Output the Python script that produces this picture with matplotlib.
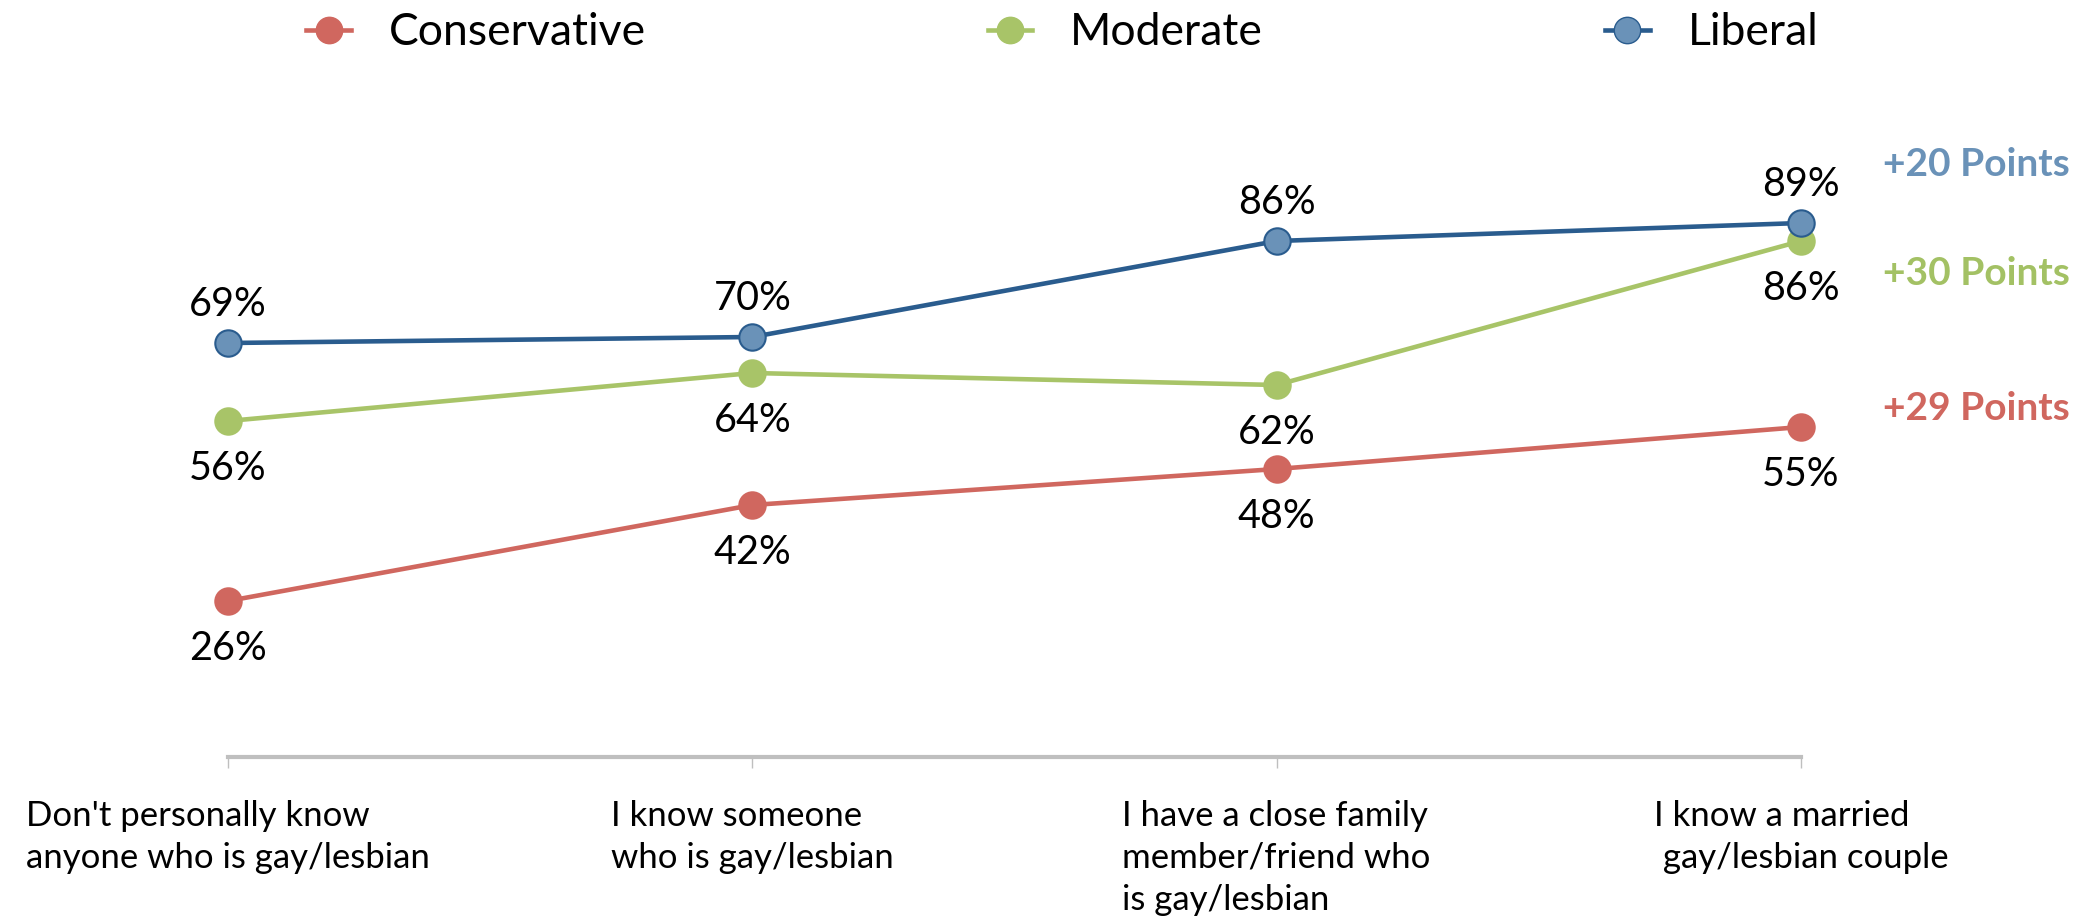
import matplotlib.pyplot as plt
from matplotlib.lines import Line2D

plt.rcParams['font.family'] = ['Lato', 'DejaVu Sans']

categories = ["Don't personally know\nanyone who is gay/lesbian",
              "I know someone\nwho is gay/lesbian",
              "I have a close family\nmember/friend who\nis gay/lesbian",
              "I know a married\n gay/lesbian couple"]
conservative = [26, 42, 48, 55]
moderate = [56, 64, 62, 86]
liberal = [69, 70, 86, 89]
gains = ["+20 Points", "+30 Points", "+29 Points"]

RED = '#D0675F'
GREEN = '#A8C468'
BLUE_LINE = '#2A5C8E'
BLUE_FACE = '#6A92B8'

fig = plt.figure(figsize=(20.91, 9.22), dpi=100)
ax = fig.add_axes([228 / 2091, 165 / 922, (1801 - 228) / 2091, 600 / 922])
ax.set_xlim(0, 3)
ax.set_ylim(0, 100)

x = list(range(len(categories)))
series = [
    ('Conservative', conservative, RED, RED, RED, 'below'),
    ('Moderate', moderate, GREEN, GREEN, GREEN, 'below'),
    ('Liberal', liberal, BLUE_LINE, BLUE_FACE, BLUE_LINE, 'above'),
]
for name, vals, lc, fc, ec, pos in series:
    ax.plot(x, vals, color=lc, lw=3.3, marker='o', markersize=19,
            markerfacecolor=fc, markeredgecolor=ec, markeredgewidth=1.5,
            label=name, clip_on=False, zorder=3)
    for xi, v in zip(x, vals):
        dy = 28 if pos == 'above' else -34
        ax.annotate(f'{v}%', (xi, v), xytext=(0, dy), textcoords='offset points',
                    ha='center', va='center', fontsize=28.5, color='black')

# gain notes on the right
note_y = [liberal[-1] + 9.8, moderate[-1] - 5.4, conservative[-1] + 3.0]
note_c = [BLUE_FACE, '#A3C164', RED]
for txt, yy, c in zip(gains, note_y, note_c):
    ax.text(1.0 + 269 / (1801 - 228), yy, txt, transform=ax.get_yaxis_transform(),
            ha='right', va='center', fontsize=28, fontweight='bold', color=c)

for s in ['top', 'right', 'left']:
    ax.spines[s].set_visible(False)
ax.spines['bottom'].set_color('#BFBFBF')
ax.spines['bottom'].set_linewidth(3)
ax.set_yticks([])
ax.set_xticks(x)
ax.set_xticklabels(categories, fontsize=25, multialignment='left',
                   linespacing=1.38, va='top')
ax.tick_params(axis='x', length=8, width=1, color='#BFBFBF', pad=23)

handles = [Line2D([], [], color=c, lw=3.3, marker='o', markersize=19,
                  markerfacecolor=fc, markeredgecolor=ec)
           for _, _, c, fc, ec, _ in series]
fig.legend(handles, [s[0] for s in series], loc='upper center',
           bbox_to_anchor=(0.508, 1.03), ncol=3, frameon=False, fontsize=32,
           handlelength=1.0, columnspacing=7.7, handletextpad=0.85)

plt.savefig('out.png', dpi=100)
